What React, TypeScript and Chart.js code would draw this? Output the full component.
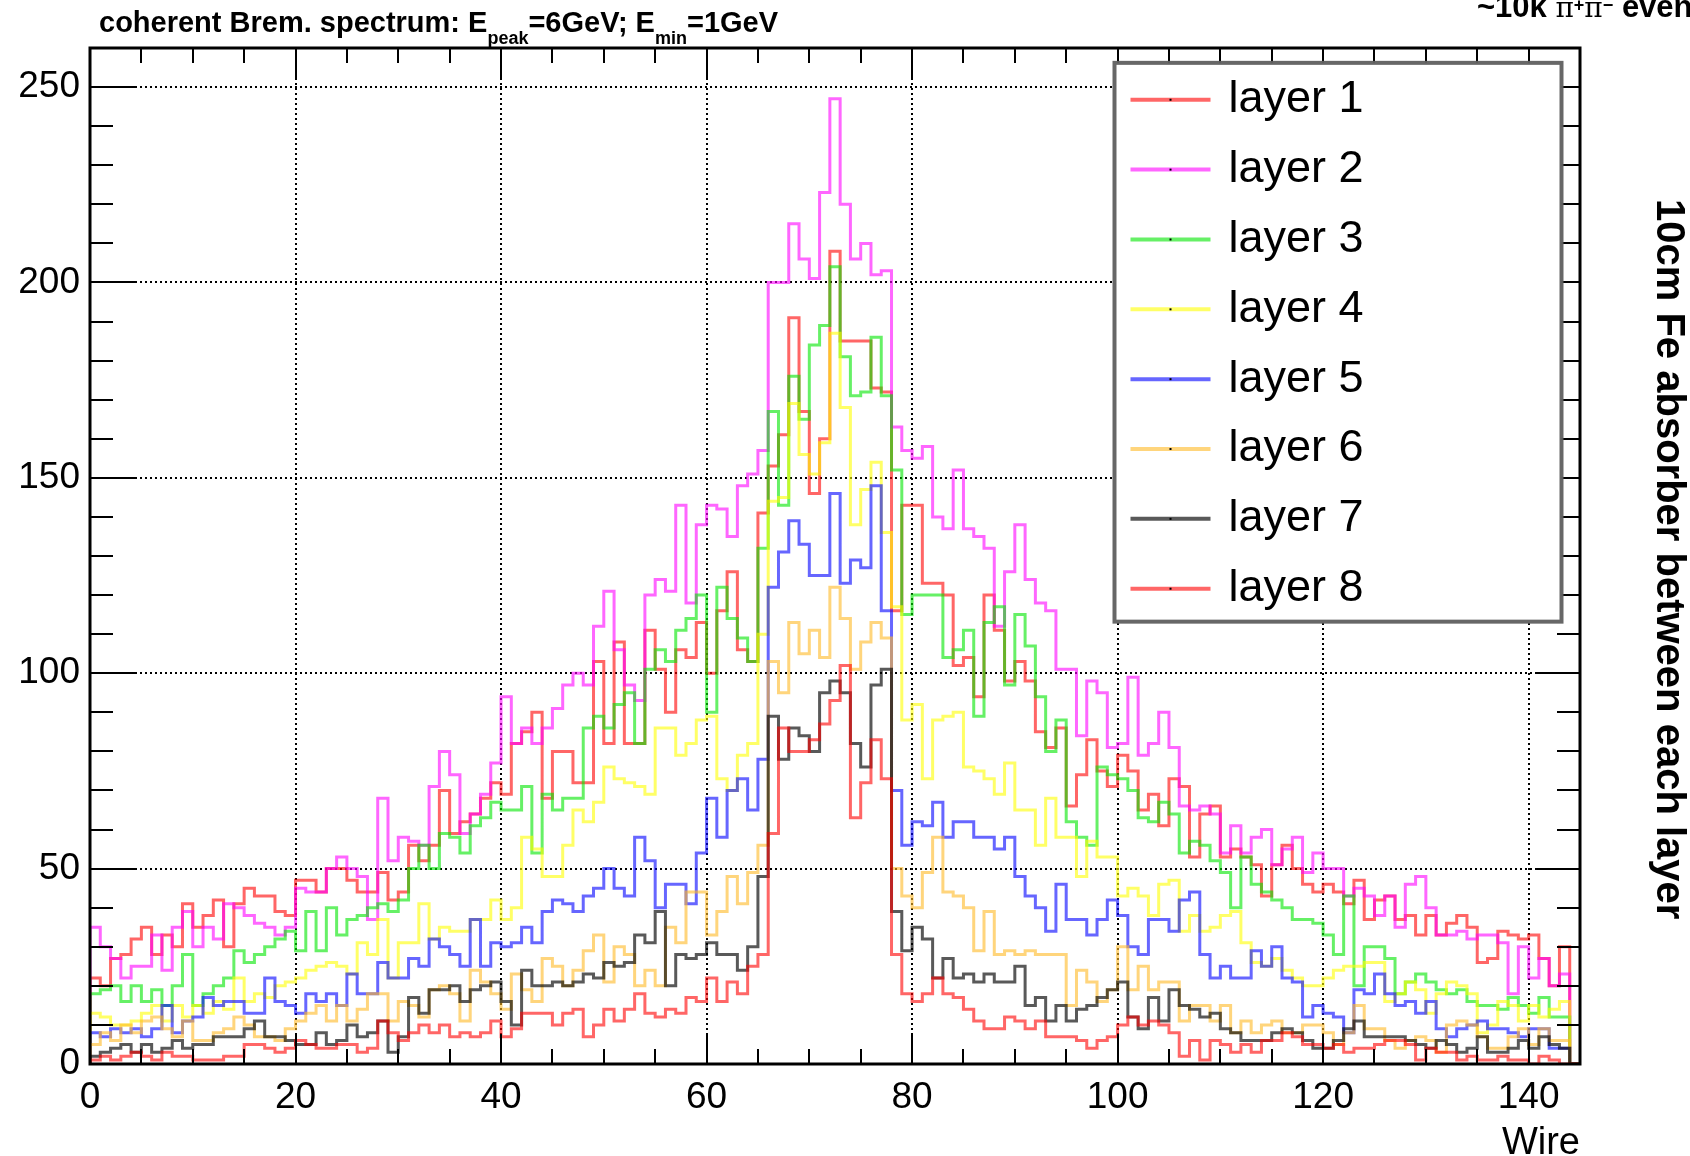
import React, { useEffect, useRef } from 'react';
import { Chart, registerables } from 'chart.js';

Chart.register(...registerables);

const FONT = '"Liberation Sans", Arial, Helvetica, sans-serif';

const WIRES = 145;
const Y_MAX = 260;
const X_TICKS = [0, 20, 40, 60, 80, 100, 120, 140];
const Y_TICKS = [0, 50, 100, 150, 200, 250];

const LAYER_NAMES = ['layer 1', 'layer 2', 'layer 3', 'layer 4', 'layer 5', 'layer 6', 'layer 7', 'layer 8'];
const LAYER_COLORS = [
  'rgba(255,0,0,0.6)',
  'rgba(255,0,255,0.6)',
  'rgba(0,230,0,0.6)',
  'rgba(255,255,0,0.6)',
  'rgba(0,0,255,0.6)',
  'rgba(255,185,36,0.6)',
  'rgba(0,0,0,0.65)',
  'rgba(255,0,0,0.6)',
];

const LAYER1 = [
  22, 22, 20, 27, 28, 32, 35, 28, 33, 30,
  41, 35, 38, 42, 30, 41, 45, 43, 43, 39,
  38, 47, 47, 44, 50, 50, 47, 44, 44, 49,
  42, 44, 56, 52, 56, 70, 59, 62, 64, 68,
  72, 69, 82, 85, 90, 68, 80, 80, 72, 72,
  103, 82, 108, 82, 82, 111, 101, 90, 106, 104,
  113, 100, 116, 126, 106, 103, 141, 153, 161, 191,
  167, 146, 160, 208, 185, 185, 185, 173, 172, 116,
  143, 143, 123, 123, 120, 102, 104, 94, 120, 111,
  98, 103, 98, 85, 81, 86, 66, 74, 83, 75,
  71, 79, 75, 65, 69, 61, 73, 71, 53, 64,
  66, 53, 55, 53, 51, 43, 51, 56, 50, 46,
  44, 46, 44, 41, 47, 37, 42, 43, 37, 38,
  33, 38, 33, 36, 38, 35, 26, 27, 34, 33,
  32, 33, 27, 20, 30,
];

const LAYER2 = [
  35, 35, 30, 27, 22, 25, 25, 33, 24, 35,
  39, 30, 35, 32, 41, 40, 38, 36, 35, 33,
  35, 45, 44, 44, 50, 53, 50, 48, 37, 68,
  52, 58, 57, 56, 71, 80, 74, 59, 64, 69,
  77, 94, 82, 86, 82, 86, 91, 97, 100, 97,
  112, 121, 106, 97, 93, 120, 124, 121, 143, 118,
  138, 143, 142, 135, 148, 151, 157, 200, 200, 215,
  206, 201, 223, 247, 220, 206, 210, 202, 203, 163,
  157, 155, 158, 140, 137, 152, 137, 135, 132, 112,
  126, 138, 124, 118, 116, 101, 101, 84, 98, 95,
  81, 82, 99, 79, 82, 90, 81, 66, 65, 66,
  64, 54, 61, 54, 58, 60, 51, 55, 58, 49,
  54, 50, 50, 43, 45, 43, 38, 43, 35, 46,
  48, 40, 33, 33, 34, 32, 33, 33, 31, 18,
  30, 22, 27, 20, 23,
];

const LAYER3 = [
  16, 18, 19, 20, 16, 20, 16, 19, 15, 20,
  28, 15, 18, 20, 22, 29, 26, 28, 30, 32,
  34, 29, 39, 29, 40, 33, 37, 38, 40, 41,
  39, 42, 50, 56, 50, 59, 58, 54, 61, 63,
  67, 65, 65, 71, 54, 69, 65, 68, 68, 86,
  89, 86, 92, 95, 82, 101, 106, 103, 111, 114,
  120, 90, 122, 114, 109, 103, 132, 167, 143, 176,
  165, 184, 189, 204, 181, 171, 172, 186, 171, 152,
  115, 120, 120, 120, 104, 106, 111, 89, 113, 117,
  97, 115, 107, 94, 80, 88, 62, 58, 56, 76,
  74, 73, 70, 63, 62, 67, 64, 54, 57, 56,
  52, 49, 40, 53, 46, 44, 42, 40, 37, 37,
  36, 33, 28, 43, 20, 30, 30, 27, 18, 21,
  23, 21, 19, 18, 19, 16, 15, 15, 14, 17,
  15, 13, 17, 12, 12,
];

const LAYER4 = [
  13, 13, 12, 10, 10, 11, 13, 15, 11, 15,
  12, 15, 13, 16, 14, 22, 16, 18, 17, 20,
  21, 22, 24, 25, 26, 25, 23, 31, 28, 37,
  22, 31, 31, 41, 32, 35, 34, 34, 37, 37,
  42, 37, 40, 58, 55, 48, 48, 56, 65, 62,
  67, 76, 73, 72, 71, 69, 86, 86, 79, 82,
  88, 89, 73, 70, 79, 82, 110, 144, 145, 169,
  156, 151, 159, 187, 168, 138, 147, 154, 136, 117,
  88, 92, 73, 88, 89, 90, 76, 75, 73, 69,
  77, 65, 65, 56, 68, 58, 58, 48, 57, 53,
  53, 43, 45, 43, 38, 46, 47, 34, 38, 34,
  35, 38, 39, 31, 26, 25, 27, 24, 22, 20,
  20, 22, 24, 25, 25, 26, 26, 16, 18, 21,
  19, 13, 18, 21, 20, 18, 8, 10, 16, 15,
  11, 15, 12, 14, 16,
];

const LAYER5 = [
  8, 8, 7, 9, 8, 9, 7, 9, 15, 8,
  11, 12, 17, 15, 16, 16, 13, 13, 22, 16,
  15, 13, 18, 16, 18, 15, 23, 18, 18, 26,
  22, 22, 27, 25, 32, 30, 28, 25, 37, 25,
  31, 30, 31, 35, 31, 39, 42, 41, 39, 43,
  45, 50, 45, 43, 58, 52, 40, 46, 46, 41,
  54, 68, 58, 70, 73, 65, 78, 122, 131, 139,
  133, 125, 125, 146, 123, 129, 127, 148, 116, 70,
  56, 62, 61, 67, 58, 62, 62, 58, 58, 55,
  58, 48, 43, 40, 34, 46, 37, 37, 33, 37,
  42, 38, 30, 28, 37, 37, 34, 42, 44, 28,
  22, 25, 22, 22, 29, 25, 30, 22, 21, 12,
  15, 13, 12, 8, 19, 18, 23, 18, 15, 16,
  13, 16, 9, 7, 9, 10, 11, 9, 9, 8,
  7, 9, 9, 4, 4,
];

const LAYER6 = [
  4, 5, 8, 6, 10, 8, 11, 12, 9, 7,
  11, 6, 6, 8, 9, 12, 10, 7, 7, 6,
  9, 11, 13, 15, 11, 15, 11, 14, 18, 18,
  11, 16, 15, 12, 19, 20, 18, 11, 24, 21,
  18, 14, 23, 19, 16, 27, 25, 20, 24, 29,
  33, 21, 30, 28, 20, 24, 20, 35, 31, 44,
  44, 33, 39, 48, 41, 49, 56, 103, 95, 113,
  105, 111, 104, 122, 114, 101, 108, 113, 109, 50,
  43, 40, 49, 58, 44, 43, 40, 29, 39, 28,
  29, 28, 29, 28, 28, 28, 15, 24, 21, 16,
  19, 30, 19, 25, 19, 21, 21, 11, 15, 15,
  11, 15, 8, 11, 8, 10, 11, 8, 8, 10,
  10, 8, 5, 8, 15, 9, 9, 6, 4, 6,
  7, 6, 3, 10, 11, 10, 7, 4, 4, 7,
  9, 5, 9, 6, 6,
];

const LAYER7 = [
  2, 2, 3, 4, 5, 3, 5, 3, 4, 6,
  4, 5, 5, 7, 7, 7, 9, 11, 7, 7,
  6, 5, 5, 8, 5, 6, 10, 7, 8, 11,
  3, 7, 17, 13, 19, 19, 20, 16, 19, 20,
  21, 16, 10, 24, 20, 20, 21, 20, 21, 23,
  22, 26, 25, 26, 33, 31, 39, 20, 28, 27,
  28, 31, 28, 28, 24, 30, 48, 89, 78, 86,
  84, 80, 95, 98, 95, 82, 76, 97, 101, 39,
  29, 35, 32, 22, 27, 22, 23, 21, 23, 21,
  21, 25, 15, 17, 11, 15, 11, 14, 15, 17,
  19, 21, 12, 9, 17, 11, 19, 15, 14, 12,
  13, 9, 8, 6, 6, 6, 8, 9, 8, 6,
  4, 4, 6, 9, 11, 7, 7, 7, 7, 6,
  5, 4, 6, 5, 3, 4, 7, 3, 3, 4,
  6, 4, 7, 5, 4,
];

const LAYER8 = [
  1, 1, 2, 1, 2, 3, 2, 1, 3, 2,
  2, 1, 1, 1, 2, 2, 5, 5, 4, 3,
  4, 6, 5, 4, 4, 5, 5, 3, 4, 11,
  8, 6, 8, 10, 8, 10, 7, 8, 7, 8,
  11, 7, 9, 13, 13, 13, 10, 13, 14, 7,
  10, 14, 11, 14, 18, 13, 12, 14, 13, 17,
  16, 22, 16, 21, 18, 25, 28, 59, 86, 80,
  80, 83, 87, 93, 102, 63, 72, 83, 73, 28,
  18, 16, 18, 22, 18, 17, 14, 11, 9, 9,
  12, 11, 9, 11, 7, 7, 7, 6, 4, 6,
  7, 10, 12, 10, 11, 10, 8, 2, 6, 1,
  6, 5, 3, 5, 3, 6, 6, 8, 7, 5,
  5, 4, 5, 3, 4, 4, 5, 6, 6, 5,
  1, 4, 3, 3, 1, 2, 1, 1, 2, 1,
  1, 0, 2, 1, 0,
];

const LAYERS = [LAYER1, LAYER2, LAYER3, LAYER4, LAYER5, LAYER6, LAYER7, LAYER8];

const TITLE_PARTS = [
  { text: 'coherent Brem. spectrum: E', sub: false },
  { text: 'peak', sub: true },
  { text: '=6GeV; E', sub: false },
  { text: 'min', sub: true },
  { text: '=1GeV', sub: false },
];
const EVENTS_PARTS = [
  { text: '~10k ', kind: 'bold' },
  { text: 'π', kind: 'greek' },
  { text: '+', kind: 'sup' },
  { text: 'π', kind: 'greek' },
  { text: '−', kind: 'sup' },
  { text: ' events', kind: 'bold' },
];
const SIDE_LABEL = '10cm Fe absorber between each layer';
const X_LABEL = 'Wire';

// histogram outline: rise from 0, step through bins, drop back to 0
function histPoints(vals: number[]) {
  const pts = [{ x: 0, y: 0 }];
  vals.forEach((v, i) => pts.push({ x: i, y: v }));
  pts.push({ x: vals.length, y: 0 });
  return pts;
}

const decorPlugin = {
  id: 'rootDecor',
  beforeDatasetsDraw(chart: any) {
    const { ctx, chartArea: a, scales } = chart;
    const xs = scales.x;
    const ys = scales.y;
    ctx.save();
    ctx.strokeStyle = '#000';
    ctx.lineWidth = 2;
    ctx.setLineDash([2, 3]);
    X_TICKS.forEach((v) => {
      if (v <= 0) return;
      const px = Math.round(xs.getPixelForValue(v));
      ctx.beginPath();
      ctx.moveTo(px, a.top);
      ctx.lineTo(px, a.bottom);
      ctx.stroke();
    });
    Y_TICKS.forEach((v) => {
      if (v <= 0) return;
      const py = Math.round(ys.getPixelForValue(v));
      ctx.beginPath();
      ctx.moveTo(a.left, py);
      ctx.lineTo(a.right, py);
      ctx.stroke();
    });
    ctx.restore();
  },
  afterDatasetsDraw(chart: any) {
    const { ctx, chartArea: a, scales } = chart;
    const xs = scales.x;
    const ys = scales.y;
    ctx.save();
    ctx.strokeStyle = '#000';
    ctx.lineWidth = 2;
    ctx.setLineDash([]);
    for (let v = 0; v <= WIRES; v += 5) {
      const px = Math.round(xs.getPixelForValue(v));
      const len = v % 20 === 0 ? 30 : 15;
      ctx.beginPath();
      ctx.moveTo(px, a.bottom);
      ctx.lineTo(px, a.bottom - len);
      ctx.moveTo(px, a.top);
      ctx.lineTo(px, a.top + len);
      ctx.stroke();
    }
    for (let v = 0; v <= Y_MAX; v += 10) {
      const py = Math.round(ys.getPixelForValue(v));
      const len = v % 50 === 0 ? 45 : 23;
      ctx.beginPath();
      ctx.moveTo(a.left, py);
      ctx.lineTo(a.left + len, py);
      ctx.moveTo(a.right, py);
      ctx.lineTo(a.right - len, py);
      ctx.stroke();
    }
    ctx.lineWidth = 3;
    ctx.strokeRect(a.left, a.top, a.right - a.left, a.bottom - a.top);
    ctx.restore();
  },
  afterDraw(chart: any) {
    const { ctx, chartArea: a, scales } = chart;
    const xs = scales.x;
    const ys = scales.y;
    ctx.save();

    // legend box, anchored in data coordinates
    const lx0 = xs.getPixelForValue(99.7);
    const lx1 = xs.getPixelForValue(143.2);
    const ly0 = ys.getPixelForValue(256.2);
    const ly1 = ys.getPixelForValue(113.2);
    ctx.fillStyle = '#fff';
    ctx.fillRect(lx0, ly0, lx1 - lx0, ly1 - ly0);
    ctx.strokeStyle = 'rgba(95,95,95,0.95)';
    ctx.lineWidth = 4;
    ctx.strokeRect(lx0, ly0, lx1 - lx0, ly1 - ly0);
    const rowH = (ly1 - ly0) / 8;
    LAYER_NAMES.forEach((name, i) => {
      const cy = ly0 + rowH * (i + 0.5) + 2;
      ctx.strokeStyle = LAYER_COLORS[i];
      ctx.lineWidth = 4;
      ctx.beginPath();
      ctx.moveTo(lx0 + 16, cy);
      ctx.lineTo(lx0 + 96, cy);
      ctx.stroke();
      ctx.fillStyle = '#000';
      ctx.fillRect(lx0 + 55, cy - 1, 2, 2);
      ctx.font = `45px ${FONT}`;
      ctx.textAlign = 'left';
      ctx.textBaseline = 'middle';
      ctx.fillText(name, lx0 + 114, cy);
    });

    // title with subscripts
    ctx.fillStyle = '#000';
    ctx.textAlign = 'left';
    ctx.textBaseline = 'alphabetic';
    let cx = 99;
    TITLE_PARTS.forEach((p) => {
      ctx.font = p.sub ? `bold 18px ${FONT}` : `bold 29px ${FONT}`;
      ctx.fillText(p.text, cx, p.sub ? 44 : 32);
      cx += ctx.measureText(p.text).width;
    });

    // top-right event text (clipped by page edge)
    cx = 1477;
    EVENTS_PARTS.forEach((p) => {
      let y = 17;
      if (p.kind === 'bold') ctx.font = `bold 31px ${FONT}`;
      else if (p.kind === 'greek') ctx.font = `28px "DejaVu Serif", serif`;
      else { ctx.font = `bold 18px ${FONT}`; y = 11; }
      ctx.fillText(p.text, cx, y);
      cx += ctx.measureText(p.text).width;
    });

    // x-axis title
    ctx.font = `38px ${FONT}`;
    ctx.textAlign = 'right';
    ctx.fillText(X_LABEL, a.right, 1154);

    // rotated side label
    ctx.translate(1668, 199);
    ctx.rotate(Math.PI / 2);
    ctx.font = `bold 40px ${FONT}`;
    ctx.textAlign = 'left';
    ctx.textBaseline = 'middle';
    ctx.fillText(SIDE_LABEL, 0, 0);
    ctx.restore();
  },
};

export default function App() {
  const ref = useRef<HTMLCanvasElement | null>(null);

  useEffect(() => {
    if (!ref.current) return;
    const chart = new Chart(ref.current, {
      type: 'line',
      data: {
        datasets: LAYERS.map((vals, i) => ({
          label: LAYER_NAMES[i],
          data: histPoints(vals),
          stepped: 'after' as const,
          borderColor: LAYER_COLORS[i],
          borderWidth: 3,
          pointRadius: 0,
          fill: false,
          order: LAYERS.length - i,
        })),
      },
      options: {
        responsive: false,
        animation: false,
        devicePixelRatio: 1,
        events: [],
        layout: { padding: { left: 0, right: 110, top: 48, bottom: 0 } },
        plugins: {
          legend: { display: false },
          tooltip: { enabled: false },
          title: { display: false },
        },
        elements: { line: { tension: 0, borderJoinStyle: 'miter' } },
        scales: {
          x: {
            type: 'linear',
            min: 0,
            max: WIRES,
            grid: { display: false, drawTicks: false },
            border: { display: false },
            afterBuildTicks: (s: any) => {
              s.ticks = X_TICKS.map((v) => ({ value: v }));
            },
            ticks: {
              autoSkip: false,
              maxRotation: 0,
              padding: 12,
              color: '#000',
              font: { family: FONT, size: 37 },
              callback: (v: any) => String(v),
            },
            afterFit: (s: any) => {
              s.height = 92;
            },
          },
          y: {
            type: 'linear',
            min: 0,
            max: Y_MAX,
            grid: { display: false, drawTicks: false },
            border: { display: false },
            afterBuildTicks: (s: any) => {
              s.ticks = Y_TICKS.map((v) => ({ value: v }));
            },
            ticks: {
              padding: 10,
              color: '#000',
              font: { family: FONT, size: 37 },
              callback: (v: any) => String(v),
            },
            afterFit: (s: any) => {
              s.width = 90;
            },
          },
        },
      },
      plugins: [decorPlugin],
    });
    return () => chart.destroy();
  }, []);

  return (
    <div style={{ position: 'absolute', left: 0, top: 0, width: 1690, height: 1156, background: '#fff', overflow: 'hidden' }}>
      <canvas ref={ref} width={1690} height={1156} style={{ display: 'block' }} />
    </div>
  );
}
